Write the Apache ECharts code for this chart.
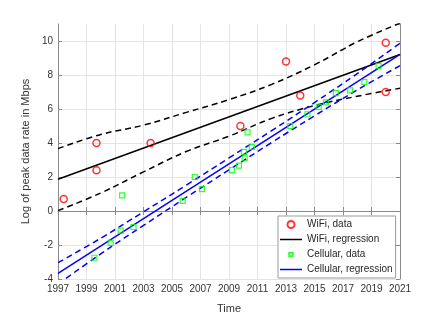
<!DOCTYPE html>
<html>
<head>
<meta charset="utf-8">
<script src="https://cdn.jsdelivr.net/npm/echarts@6/dist/echarts.min.js"></script>
<style>
html,body{margin:0;padding:0;background:#fff;}
#chart{width:443px;height:319px;}
</style>
</head>
<body>
<div id="chart"></div>
<script>
// ---- data ----
var wifiYears = [1997.4, 1999.7, 1999.7, 2003.5, 2009.8, 2013.0, 2014.0, 2020.0, 2020.0];
var wifiRate  = [0.7, 2.4, 4.0, 4.0, 5.0, 8.8, 6.8, 9.9, 7.0];

var cellYears = [1999.55, 2000.7, 2001.4, 2001.5, 2002.3, 2005.75, 2006.6, 2007.1, 2009.2, 2009.7, 2010.05, 2010.1, 2010.6, 2010.3, 2013.3, 2014.5, 2015.3, 2015.8, 2016.5, 2017.5, 2018.5, 2019.5];
var cellRate  = [-2.75, -1.87, -1.15, 0.92, -0.94, 0.6, 2.0, 1.29, 2.4, 2.67, 3.48, 3.1, 3.77, 4.62, 5.0, 5.69, 6.12, 6.39, 6.93, 7.1, 7.58, 8.54];

var regYears = [1997, 2021];
var wifiReg  = [1.87, 9.21];
var cellReg  = [-3.67, 9.21];

var ciYears   = [1997, 2000, 2003, 2006, 2009, 2012, 2015, 2018, 2021];
var wifiUpper = [3.67, 4.5, 5.05, 5.8, 6.55, 7.45, 8.6, 9.95, 11.05];
var wifiLower = [0.02, 1.06, 2.3, 3.5, 4.4, 5.45, 6.2, 6.75, 7.22];
var cellUpper = [-3.04, -1.6, -0.05, 1.52, 3.12, 4.73, 6.38, 8.08, 9.87];
var cellLower = [-4.3, -2.52, -0.85, 0.8, 2.42, 4.03, 5.6, 7.12, 8.55];

var xTickLabels = ['1997','1999','2001','2003','2005','2007','2009','2011','2013','2015','2017','2019','2021'];
var yTickLabels = ['-4','-2','0','2','4','6','8','10'];

function pairs(xs, ys){ return xs.map(function(x,i){ return [x, ys[i]]; }); }

var FONT = 'Liberation Sans, Arial, sans-serif';
var axisGray = '#8a8a8a';
var textGray = '#333333';
var LINE_ICON = 'path://M0,0 M22,7 M0,2.75 L22,2.75 L22,4.25 L0,4.25 Z';

var chart = echarts.init(document.getElementById('chart'), null, {renderer:'canvas'});

var dashStyle = function(c){ return {color:c, width:1.5, type:[6,4]}; };

chart.setOption({
  animation:false,
  backgroundColor:'#ffffff',
  grid:{left:58, top:24, right:43, bottom:35, containLabel:false},
  xAxis:[{
    type:'value', min:1997, max:2021, interval:2,
    name:'Time', nameLocation:'middle', nameGap:24,
    nameTextStyle:{fontFamily:FONT, fontSize:11, color:textGray},
    axisLine:{show:true, lineStyle:{color:axisGray, width:1}},
    axisTick:{show:true, inside:true, length:4, lineStyle:{color:axisGray}},
    axisLabel:{fontFamily:FONT, fontSize:10, color:textGray, margin:5,
      formatter:function(v){ var s=String(Math.round(v)); return xTickLabels.indexOf(s)>=0 ? s : ''; }},
    splitLine:{show:true, lineStyle:{color:'#e4e4e4', width:1}}
  },{
    type:'value', min:1997, max:2021, interval:2, position:'top',
    axisLine:{show:false},
    axisTick:{show:true, inside:true, length:4, lineStyle:{color:axisGray}},
    axisLabel:{show:false}, splitLine:{show:false}
  }],
  yAxis:[{
    type:'value', min:-4, max:11, interval:2,
    name:'Log of peak data rate in Mbps', nameLocation:'middle', nameGap:23,
    nameTextStyle:{fontFamily:FONT, fontSize:11, color:textGray},
    axisLine:{show:true, lineStyle:{color:axisGray, width:1}},
    axisTick:{show:true, inside:true, length:4, lineStyle:{color:axisGray}},
    axisLabel:{fontFamily:FONT, fontSize:10, color:textGray, margin:5, showMaxLabel:false,
      formatter:function(v){ var s=String(Math.round(v)); return yTickLabels.indexOf(s)>=0 ? s : ''; }},
    splitLine:{show:true, showMaxLine:false, lineStyle:{color:'#e4e4e4', width:1}}
  },{
    type:'value', min:-4, max:11, interval:2, position:'right',
    axisLine:{show:true, lineStyle:{color:axisGray, width:1}},
    axisTick:{show:true, inside:true, length:4, lineStyle:{color:axisGray}},
    axisLabel:{show:false}, splitLine:{show:false}
  }],
  legend:{
    orient:'vertical', left:278, top:216,
    backgroundColor:'#ffffff', borderColor:'#9a9a9a', borderWidth:1,
    padding:[3,3,3,2], itemWidth:22, itemHeight:7, itemGap:4,
    textStyle:{fontFamily:FONT, fontSize:10, color:'#262626', lineHeight:11},
    data:[
      {name:'WiFi, data', icon:'circle'},
      {name:'WiFi, regression', icon:LINE_ICON, itemStyle:{color:'#000000', borderWidth:0}},
      {name:'Cellular, data', icon:'path://M0,0 M10,10 M2.5,2.5 L7.5,2.5 L7.5,7.5 L2.5,7.5 Z'},
      {name:'Cellular, regression', icon:LINE_ICON, itemStyle:{color:'#0000ff', borderWidth:0}}
    ]
  },
  series:[
    {name:'wifiUpper', type:'line', data:pairs(ciYears, wifiUpper), smooth:0.4, symbol:'none', lineStyle:dashStyle('#000'), clip:true, z:2},
    {name:'wifiLower', type:'line', data:pairs(ciYears, wifiLower), smooth:0.4, symbol:'none', lineStyle:dashStyle('#000'), clip:true, z:2},
    {name:'WiFi, regression', type:'line', data:pairs(regYears, wifiReg), symbol:'none', lineStyle:{color:'#000', width:1.5}, itemStyle:{color:'#000'}, clip:true, z:2},
    {name:'cellUpper', type:'line', data:pairs(ciYears, cellUpper), smooth:0.4, symbol:'none', lineStyle:dashStyle('#0000ff'), clip:true, z:3},
    {name:'cellLower', type:'line', data:pairs(ciYears, cellLower), smooth:0.4, symbol:'none', lineStyle:dashStyle('#0000ff'), clip:true, z:3},
    {name:'Cellular, regression', type:'line', data:pairs(regYears, cellReg), symbol:'none', lineStyle:{color:'#0000ff', width:1.5}, itemStyle:{color:'#0000ff'}, clip:true, z:3},
    {name:'WiFi, data', type:'scatter', data:pairs(wifiYears, wifiRate), symbol:'circle', symbolSize:7,
      itemStyle:{color:'rgba(0,0,0,0)', borderColor:'#ff0000', borderWidth:1.5}, z:5},
    {name:'Cellular, data', type:'scatter', data:pairs(cellYears, cellRate), symbol:'rect', symbolSize:5,
      itemStyle:{color:'rgba(0,0,0,0)', borderColor:'#00ff00', borderWidth:1.2}, z:5}
  ]
});
</script>
</body>
</html>
